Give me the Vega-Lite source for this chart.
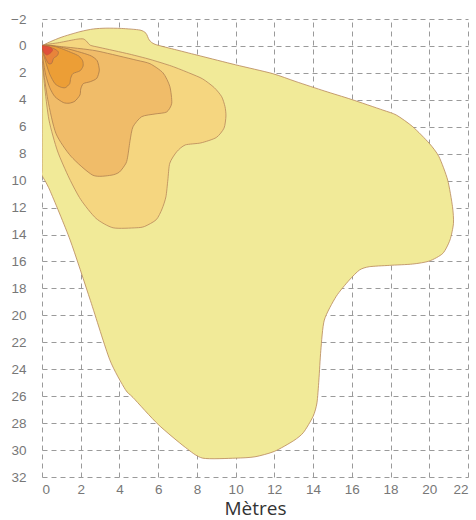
{
  "$schema": "https://vega.github.io/schema/vega-lite/v6.json",
  "width": 426,
  "height": 458,
  "autosize": {"type": "none"},
  "padding": {"left": 42, "top": 19, "right": 8, "bottom": 43},
  "background": "white",
  "config": {
    "view": {"stroke": null},
    "axis": {
      "grid": true,
      "gridColor": "#9a9a9a",
      "gridDash": [5, 4],
      "gridWidth": 1,
      "domain": false,
      "ticks": false,
      "labelFont": "Liberation Sans",
      "labelFontSize": 13.5,
      "labelColor": "#777777",
      "titleFont": "Open Sans",
      "titleFontSize": 19,
      "titleFontWeight": "normal",
      "titleColor": "#333333"
    }
  },
  "data": {
    "values": [
      {"s": 1, "i": 1, "x": 0, "y": 0},
      {"s": 1, "i": 2, "x": 0.93, "y": -0.61},
      {"s": 1, "i": 3, "x": 1.96, "y": -1.06},
      {"s": 1, "i": 4, "x": 2.65, "y": -1.26},
      {"s": 1, "i": 5, "x": 3.3, "y": -1.32},
      {"s": 1, "i": 6, "x": 4.1, "y": -1.3},
      {"s": 1, "i": 7, "x": 5.06, "y": -1.18},
      {"s": 1, "i": 8, "x": 5.37, "y": -0.94},
      {"s": 1, "i": 9, "x": 5.54, "y": -0.44},
      {"s": 1, "i": 10, "x": 5.84, "y": -0.12},
      {"s": 1, "i": 11, "x": 6.96, "y": 0.3},
      {"s": 1, "i": 12, "x": 8.2, "y": 0.75},
      {"s": 1, "i": 13, "x": 10.0, "y": 1.4},
      {"s": 1, "i": 14, "x": 11.9, "y": 2.05},
      {"s": 1, "i": 15, "x": 13.12, "y": 2.65},
      {"s": 1, "i": 16, "x": 14.6, "y": 3.35},
      {"s": 1, "i": 17, "x": 15.96, "y": 3.96},
      {"s": 1, "i": 18, "x": 17.6, "y": 4.76},
      {"s": 1, "i": 19, "x": 18.3, "y": 5.13},
      {"s": 1, "i": 20, "x": 19.15, "y": 6.0},
      {"s": 1, "i": 21, "x": 20.0, "y": 7.23},
      {"s": 1, "i": 22, "x": 20.5, "y": 8.22},
      {"s": 1, "i": 23, "x": 20.95, "y": 9.95},
      {"s": 1, "i": 24, "x": 21.2, "y": 11.93},
      {"s": 1, "i": 25, "x": 21.25, "y": 13.17},
      {"s": 1, "i": 26, "x": 21.07, "y": 14.4},
      {"s": 1, "i": 27, "x": 20.7, "y": 15.4},
      {"s": 1, "i": 28, "x": 20.0, "y": 15.97},
      {"s": 1, "i": 29, "x": 19.15, "y": 16.19},
      {"s": 1, "i": 30, "x": 17.94, "y": 16.29},
      {"s": 1, "i": 31, "x": 16.9, "y": 16.39},
      {"s": 1, "i": 32, "x": 16.4, "y": 16.63},
      {"s": 1, "i": 33, "x": 15.87, "y": 17.38},
      {"s": 1, "i": 34, "x": 15.19, "y": 18.6},
      {"s": 1, "i": 35, "x": 14.58, "y": 20.35},
      {"s": 1, "i": 36, "x": 14.4, "y": 22.6},
      {"s": 1, "i": 37, "x": 14.3, "y": 24.8},
      {"s": 1, "i": 38, "x": 14.2, "y": 26.5},
      {"s": 1, "i": 39, "x": 14.0, "y": 27.5},
      {"s": 1, "i": 40, "x": 13.5, "y": 28.7},
      {"s": 1, "i": 41, "x": 13.0, "y": 29.3},
      {"s": 1, "i": 42, "x": 12.0, "y": 30.1},
      {"s": 1, "i": 43, "x": 11.0, "y": 30.5},
      {"s": 1, "i": 44, "x": 10.0, "y": 30.6},
      {"s": 1, "i": 45, "x": 8.3, "y": 30.6},
      {"s": 1, "i": 46, "x": 7.4, "y": 29.8},
      {"s": 1, "i": 47, "x": 6.0, "y": 28.1},
      {"s": 1, "i": 48, "x": 4.7, "y": 26.1},
      {"s": 1, "i": 49, "x": 4.3, "y": 25.5},
      {"s": 1, "i": 50, "x": 3.5, "y": 23.3},
      {"s": 1, "i": 51, "x": 2.5, "y": 18.9},
      {"s": 1, "i": 52, "x": 1.45, "y": 14.4},
      {"s": 1, "i": 53, "x": 0.4, "y": 10.7},
      {"s": 1, "i": 54, "x": 0, "y": 9.6},
      {"s": 1, "i": 55, "x": 0, "y": 9.2},
      {"s": 1, "i": 56, "x": 0, "y": 6.5},
      {"s": 1, "i": 57, "x": 0, "y": 3.5},
      {"s": 1, "i": 58, "x": 0, "y": 0.5},

      {"s": 2, "i": 1, "x": 0, "y": 0},
      {"s": 2, "i": 2, "x": 0.9, "y": -0.25},
      {"s": 2, "i": 3, "x": 1.8, "y": -0.5},
      {"s": 2, "i": 4, "x": 2.13, "y": -0.52},
      {"s": 2, "i": 5, "x": 2.3, "y": -0.35},
      {"s": 2, "i": 6, "x": 2.5, "y": -0.05},
      {"s": 2, "i": 7, "x": 3.0, "y": 0.12},
      {"s": 2, "i": 8, "x": 4.5, "y": 0.6},
      {"s": 2, "i": 9, "x": 5.58, "y": 1.0},
      {"s": 2, "i": 10, "x": 6.7, "y": 1.5},
      {"s": 2, "i": 11, "x": 7.64, "y": 2.03},
      {"s": 2, "i": 12, "x": 8.3, "y": 2.45},
      {"s": 2, "i": 13, "x": 8.9, "y": 3.1},
      {"s": 2, "i": 14, "x": 9.28, "y": 3.77},
      {"s": 2, "i": 15, "x": 9.45, "y": 4.5},
      {"s": 2, "i": 16, "x": 9.5, "y": 5.2},
      {"s": 2, "i": 17, "x": 9.4, "y": 6.1},
      {"s": 2, "i": 18, "x": 9.0, "y": 6.8},
      {"s": 2, "i": 19, "x": 8.2, "y": 7.2},
      {"s": 2, "i": 20, "x": 7.4, "y": 7.35},
      {"s": 2, "i": 21, "x": 6.96, "y": 7.85},
      {"s": 2, "i": 22, "x": 6.6, "y": 8.7},
      {"s": 2, "i": 23, "x": 6.5, "y": 9.95},
      {"s": 2, "i": 24, "x": 6.4, "y": 11.2},
      {"s": 2, "i": 25, "x": 6.2, "y": 12.1},
      {"s": 2, "i": 26, "x": 5.9, "y": 12.9},
      {"s": 2, "i": 27, "x": 5.3, "y": 13.4},
      {"s": 2, "i": 28, "x": 4.86, "y": 13.5},
      {"s": 2, "i": 29, "x": 3.67, "y": 13.5},
      {"s": 2, "i": 30, "x": 2.79, "y": 12.8},
      {"s": 2, "i": 31, "x": 2.0, "y": 11.4},
      {"s": 2, "i": 32, "x": 1.4, "y": 9.8},
      {"s": 2, "i": 33, "x": 0.8, "y": 7.8},
      {"s": 2, "i": 34, "x": 0.36, "y": 5.5},
      {"s": 2, "i": 35, "x": 0.12, "y": 2.8},
      {"s": 2, "i": 36, "x": 0.02, "y": 0.8},

      {"s": 3, "i": 1, "x": 0, "y": 0},
      {"s": 3, "i": 2, "x": 1.0, "y": 0.05},
      {"s": 3, "i": 3, "x": 2.27, "y": 0.25},
      {"s": 3, "i": 4, "x": 3.0, "y": 0.42},
      {"s": 3, "i": 5, "x": 4.86, "y": 1.05},
      {"s": 3, "i": 6, "x": 5.58, "y": 1.32},
      {"s": 3, "i": 7, "x": 6.25, "y": 2.0},
      {"s": 3, "i": 8, "x": 6.6, "y": 3.0},
      {"s": 3, "i": 9, "x": 6.7, "y": 4.25},
      {"s": 3, "i": 10, "x": 6.44, "y": 4.9},
      {"s": 3, "i": 11, "x": 5.84, "y": 5.05},
      {"s": 3, "i": 12, "x": 5.15, "y": 5.25},
      {"s": 3, "i": 13, "x": 4.7, "y": 6.0},
      {"s": 3, "i": 14, "x": 4.55, "y": 7.0},
      {"s": 3, "i": 15, "x": 4.44, "y": 8.1},
      {"s": 3, "i": 16, "x": 4.34, "y": 8.7},
      {"s": 3, "i": 17, "x": 4.0, "y": 9.36},
      {"s": 3, "i": 18, "x": 3.56, "y": 9.6},
      {"s": 3, "i": 19, "x": 2.63, "y": 9.6},
      {"s": 3, "i": 20, "x": 1.5, "y": 8.2},
      {"s": 3, "i": 21, "x": 0.72, "y": 6.5},
      {"s": 3, "i": 22, "x": 0.3, "y": 4.0},
      {"s": 3, "i": 23, "x": 0.05, "y": 1.5},

      {"s": 4, "i": 1, "x": 0, "y": 0},
      {"s": 4, "i": 2, "x": 1.0, "y": 0.1},
      {"s": 4, "i": 3, "x": 2.05, "y": 0.5},
      {"s": 4, "i": 4, "x": 2.55, "y": 0.75},
      {"s": 4, "i": 5, "x": 2.85, "y": 1.1},
      {"s": 4, "i": 6, "x": 2.96, "y": 1.79},
      {"s": 4, "i": 7, "x": 2.83, "y": 2.4},
      {"s": 4, "i": 8, "x": 2.5, "y": 2.65},
      {"s": 4, "i": 9, "x": 2.13, "y": 2.8},
      {"s": 4, "i": 10, "x": 2.0, "y": 3.2},
      {"s": 4, "i": 11, "x": 1.96, "y": 3.64},
      {"s": 4, "i": 12, "x": 1.7, "y": 4.1},
      {"s": 4, "i": 13, "x": 1.4, "y": 4.25},
      {"s": 4, "i": 14, "x": 1.1, "y": 4.2},
      {"s": 4, "i": 15, "x": 0.67, "y": 3.77},
      {"s": 4, "i": 16, "x": 0.4, "y": 3.1},
      {"s": 4, "i": 17, "x": 0.2, "y": 2.2},
      {"s": 4, "i": 18, "x": 0.05, "y": 1.0},

      {"s": 5, "i": 1, "x": 0, "y": 0},
      {"s": 5, "i": 2, "x": 0.7, "y": 0.05},
      {"s": 5, "i": 3, "x": 1.53, "y": 0.5},
      {"s": 5, "i": 4, "x": 1.9, "y": 0.75},
      {"s": 5, "i": 5, "x": 2.1, "y": 1.1},
      {"s": 5, "i": 6, "x": 2.12, "y": 1.5},
      {"s": 5, "i": 7, "x": 1.96, "y": 1.85},
      {"s": 5, "i": 8, "x": 1.6, "y": 2.05},
      {"s": 5, "i": 9, "x": 1.48, "y": 2.4},
      {"s": 5, "i": 10, "x": 1.43, "y": 2.8},
      {"s": 5, "i": 11, "x": 1.2, "y": 3.1},
      {"s": 5, "i": 12, "x": 0.95, "y": 3.05},
      {"s": 5, "i": 13, "x": 0.67, "y": 2.8},
      {"s": 5, "i": 14, "x": 0.4, "y": 2.1},
      {"s": 5, "i": 15, "x": 0.15, "y": 1.0},

      {"s": 6, "i": 1, "x": 0, "y": 0},
      {"s": 6, "i": 2, "x": 0.58, "y": 0.18},
      {"s": 6, "i": 3, "x": 0.84, "y": 0.43},
      {"s": 6, "i": 4, "x": 0.8, "y": 0.7},
      {"s": 6, "i": 5, "x": 0.6, "y": 0.92},
      {"s": 6, "i": 6, "x": 0.5, "y": 1.29},
      {"s": 6, "i": 7, "x": 0.33, "y": 1.3},
      {"s": 6, "i": 8, "x": 0.15, "y": 0.8},
      {"s": 6, "i": 9, "x": 0.03, "y": 0.3},

      {"s": 7, "i": 1, "x": 0, "y": 0},
      {"s": 7, "i": 2, "x": 0.41, "y": 0.08},
      {"s": 7, "i": 3, "x": 0.55, "y": 0.3},
      {"s": 7, "i": 4, "x": 0.42, "y": 0.55},
      {"s": 7, "i": 5, "x": 0.24, "y": 0.67},
      {"s": 7, "i": 6, "x": 0.08, "y": 0.45}
    ]
  },
  "encoding": {
    "x": {
      "field": "x",
      "type": "quantitative",
      "scale": {"domain": [0, 22], "nice": false, "zero": false},
      "axis": {"values": [0, 2, 4, 6, 8, 10, 12, 14, 16, 18, 20, 22], "title": "Mètres", "labelPadding": 5, "titlePadding": 4}
    },
    "y": {
      "field": "y",
      "type": "quantitative",
      "scale": {"domain": [-2, 32], "nice": false, "zero": false, "reverse": true},
      "axis": {"values": [-2, 0, 2, 4, 6, 8, 10, 12, 14, 16, 18, 20, 22, 24, 26, 28, 30, 32], "title": null, "labelPadding": 16}
    },
    "order": {"field": "i", "type": "quantitative"}
  },
  "layer": [
    {"transform": [{"filter": "datum.s == 1"}], "mark": {"type": "line", "clip": true, "interpolate": "cardinal-closed", "tension": 0.3, "fill": "#F1EA98", "stroke": "#B8875A", "strokeWidth": 0.8}},
    {"transform": [{"filter": "datum.s == 2"}], "mark": {"type": "line", "clip": true, "interpolate": "cardinal-closed", "tension": 0.3, "fill": "#F5D680", "stroke": "#B8875A", "strokeWidth": 0.8}},
    {"transform": [{"filter": "datum.s == 3"}], "mark": {"type": "line", "clip": true, "interpolate": "cardinal-closed", "tension": 0.3, "fill": "#F0BC69", "stroke": "#B08050", "strokeWidth": 0.8}},
    {"transform": [{"filter": "datum.s == 4"}], "mark": {"type": "line", "clip": true, "interpolate": "cardinal-closed", "tension": 0.3, "fill": "#F0AE52", "stroke": "#A87848", "strokeWidth": 0.8}},
    {"transform": [{"filter": "datum.s == 5"}], "mark": {"type": "line", "clip": true, "interpolate": "cardinal-closed", "tension": 0.3, "fill": "#EC9E36", "stroke": "#A87848", "strokeWidth": 0.8}},
    {"transform": [{"filter": "datum.s == 6"}], "mark": {"type": "line", "clip": true, "interpolate": "cardinal-closed", "tension": 0.3, "fill": "#E8843A", "stroke": "#A87048", "strokeWidth": 0.8}},
    {"transform": [{"filter": "datum.s == 7"}], "mark": {"type": "line", "clip": true, "interpolate": "cardinal-closed", "tension": 0.3, "fill": "#E0503A", "stroke": "#C05038", "strokeWidth": 0.6}}
  ]
}
